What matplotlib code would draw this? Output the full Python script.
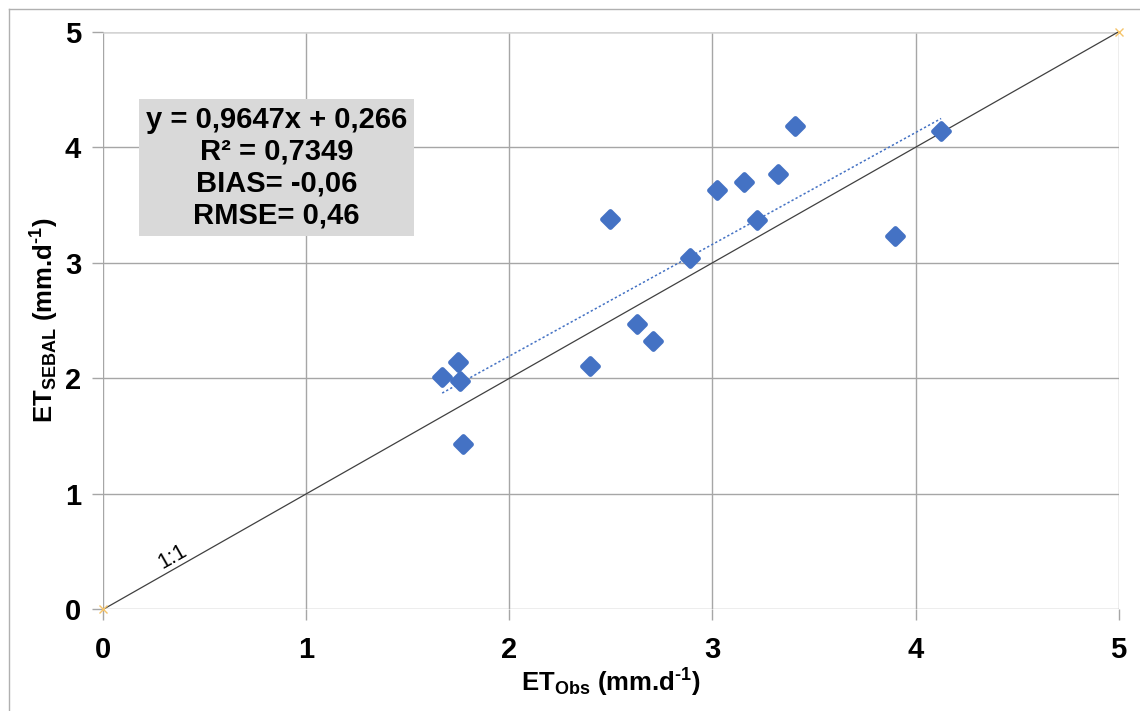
"""Scatter of SEBAL vs observed ET with 1:1 line and linear trend."""

import numpy as np
import matplotlib.pyplot as plt
from matplotlib.lines import Line2D
from matplotlib.markers import MarkerStyle

plt.rcParams["font.family"] = ["Liberation Sans", "DejaVu Sans"]
plt.rcParams["mathtext.fontset"] = "custom"
plt.rcParams["mathtext.rm"] = "Liberation Sans:bold"
plt.rcParams["mathtext.it"] = "Liberation Sans:bold"
plt.rcParams["mathtext.bf"] = "Liberation Sans:bold"

et_obs = [1.669, 1.748, 1.757, 1.770, 2.398, 2.494, 2.626, 2.709,
          2.890, 3.020, 3.157, 3.220, 3.323, 3.408, 3.900, 4.126]
et_sebal = [2.009, 2.139, 1.977, 1.434, 2.109, 3.379, 2.468, 2.323,
            3.044, 3.628, 3.697, 3.371, 3.766, 4.182, 3.232, 4.138]

one_to_one = [0, 5]
ticks = [0, 1, 2, 3, 4, 5]
stats_text = "y = 0,9647x + 0,266\nR² = 0,7349\nBIAS= -0,06\nRMSE= 0,46"

BLUE = "#4472c4"
GRID = "#a6a6a6"


def main() -> None:
    fig = plt.figure(figsize=(11.4, 7.11), dpi=100)
    ax = fig.add_axes([0.0906, 0.1430, 0.8906, 0.8123])

    ax.set_xlim(0, 5)
    ax.set_ylim(0, 5)
    ax.set_xticks(ticks)
    ax.set_yticks(ticks)
    ax.grid(True, color=GRID, linewidth=1)
    ax.set_axisbelow(True)
    # top gridline is drawn lighter in the original
    top = ax.yaxis.get_gridlines()[-1]
    top.set_color("#d4d4d4")
    top.set_linewidth(1.8)
    for spine in ax.spines.values():
        spine.set_visible(False)
    ax.tick_params(axis="both", length=8, width=1, color=GRID, labelsize=21)
    ax.tick_params(axis="x", pad=11)
    ax.tick_params(axis="y", pad=8)
    for lab in ax.get_xticklabels() + ax.get_yticklabels():
        lab.set_fontweight("bold")

    # 1:1 line with its end markers
    ax.plot(one_to_one, one_to_one, color="#404040", linewidth=0.9,
            marker="x", markersize=6, markeredgecolor="#f5c46a",
            markeredgewidth=1, clip_on=False, zorder=2)
    ax.text(0.343, 0.453, "1:1", rotation=29.6, fontsize=15.5,
            ha="center", va="center")

    # linear trend over the observed range
    slope, intercept = np.polyfit(et_obs, et_sebal, 1)
    xr = np.array([min(et_obs), max(et_obs)])
    ax.plot(xr, slope * xr + intercept, color=BLUE, linewidth=1.1,
            linestyle=(0, (1.5, 1.5)), zorder=3)

    marker = MarkerStyle("D", joinstyle="round")
    ax.plot(et_obs, et_sebal, linestyle="none", marker=marker,
            markersize=8.5, color=BLUE, markeredgecolor=BLUE,
            markeredgewidth=3.5, zorder=4)

    ax.text(276.5 / 1140, 1 - 167.5 / 711, stats_text, transform=fig.transFigure,
            ha="center", va="center", fontsize=21, fontweight="bold",
            linespacing=1.18,
            bbox=dict(boxstyle="square,pad=0.22", fc="#d9d9d9", ec="none"))

    ax.set_xlabel(r"ET$_{\mathrm{Obs}}$ (mm.d$^{\text{-1}}$)", fontsize=18.5,
                  fontweight="bold")
    ax.set_ylabel(r"ET$_{\mathrm{SEBAL}}$ (mm.d$^{\text{-1}}$)", fontsize=18.5,
                  fontweight="bold")
    ax.xaxis.set_label_coords(0.5, -0.10)
    ax.yaxis.set_label_coords(-0.042, 0.5)

    # chart-area frame (only left and top edges visible)
    fx = 8.5 / 1140
    fy = 1 - 8.5 / 711
    fig.add_artist(Line2D([fx, fx], [0, fy], color="#b0b0b0", linewidth=1,
                          transform=fig.transFigure))
    fig.add_artist(Line2D([fx, 1], [fy, fy], color="#b0b0b0", linewidth=1,
                          transform=fig.transFigure))

    fig.savefig("out.png", dpi=100)


if __name__ == "__main__":
    main()
